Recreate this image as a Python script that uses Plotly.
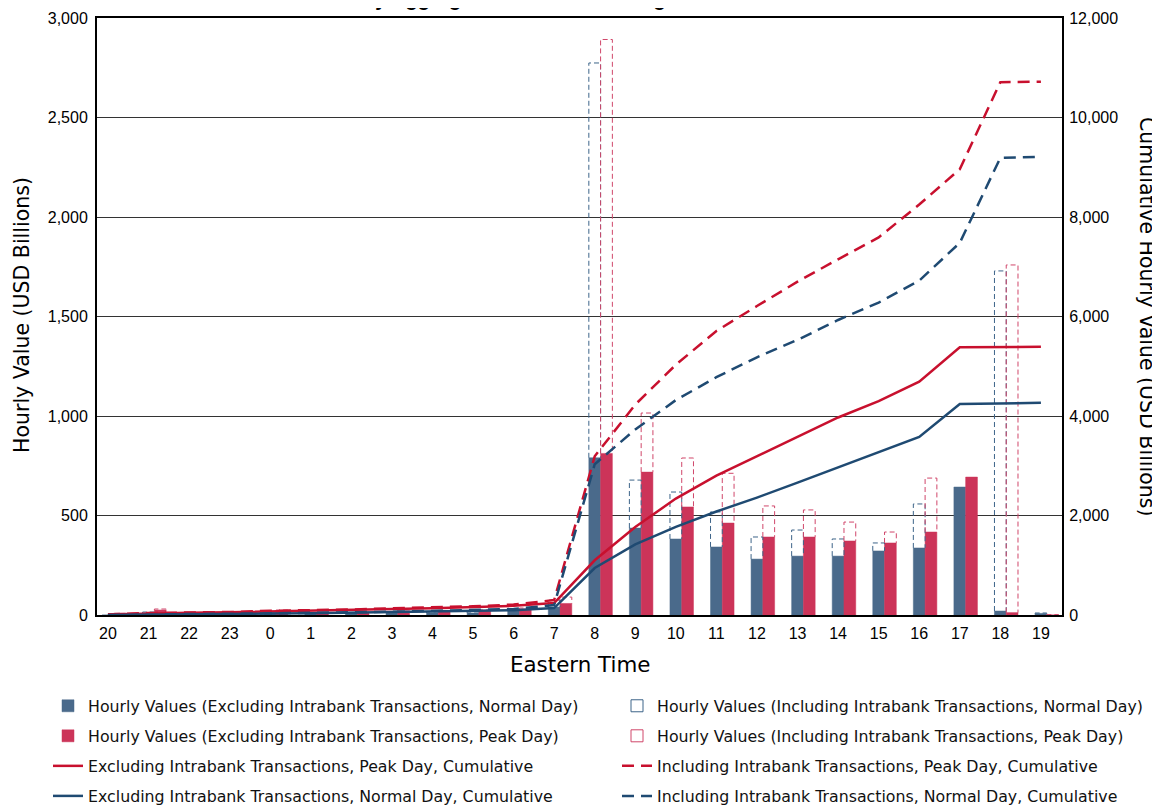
import plotly.graph_objects as go

hours = ["20", "21", "22", "23", "0", "1", "2", "3", "4", "5", "6", "7",
         "8", "9", "10", "11", "12", "13", "14", "15", "16", "17", "18", "19"]

normal_excl = [0, 10, 5, 5, 10, 5, 10, 10, 10, 10, 20, 40,
               790, 437, 382, 342, 281, 296, 296, 322, 337, 643, 20, 8]
peak_excl = [10, 25, 10, 10, 20, 10, 15, 20, 15, 20, 30, 58,
             812, 718, 543, 462, 392, 392, 372, 362, 417, 693, 12, 0]
normal_incl = [0, 15, 5, 5, 15, 5, 10, 10, 15, 15, 25, 75,
               2774, 678, 618, 518, 392, 427, 382, 362, 558, 643, 1729, 10]
peak_incl = [10, 30, 10, 10, 25, 10, 15, 25, 15, 25, 35, 90,
             2892, 1015, 789, 712, 548, 528, 467, 417, 688, 693, 1759, 2]

cum_normal_excl = [0, 10, 15, 20, 30, 35, 45, 55, 65, 75, 95, 140,
                   945, 1420, 1770, 2080, 2360, 2660, 2970, 3270, 3580, 4240, 4255, 4265]
cum_peak_excl = [10, 35, 45, 55, 75, 85, 100, 120, 135, 155, 185, 240,
                 1100, 1770, 2340, 2800, 3190, 3590, 3970, 4300, 4690, 5380, 5390, 5390]
cum_normal_incl = [0, 15, 20, 25, 40, 45, 55, 65, 80, 95, 120, 200,
                   3030, 3730, 4320, 4780, 5180, 5530, 5930, 6280, 6720, 7480, 9190, 9210]
cum_peak_incl = [10, 40, 50, 60, 85, 95, 110, 135, 150, 175, 210, 300,
                 3190, 4230, 5030, 5710, 6210, 6700, 7150, 7590, 8250, 8960, 10710, 10720]

idx = list(range(len(hours)))

# styles
BLUE_BAR = "#4a6a8b"
RED_BAR = "#cc3459"
BLUE_LINE = "#1f4a72"
RED_LINE = "#c8102e"
BLUE_OUT = "#3d6489"
RED_OUT = "#d0466a"
BAR_W = 0.29
OFF_BLUE = -BAR_W / 2
OFF_RED = BAR_W / 2
FONT = "DejaVu Sans, Arial, sans-serif"
TFONT = "Arial, Liberation Sans, sans-serif"

# page offset of the plotly div (default body margin)
OFS = 8
W, H = 1160 - OFS, 807 - OFS
# plot area in page pixels
PL, PR, PT, PB = 97, 1062, 18, 615
PW, PH = PR - PL, PB - PT


def px_x(px):
    return (px - PL) / PW


def px_y(py):
    return (PB - py) / PH


def outline_path(vals_incl, vals_excl, off):
    xs, ys = [], []
    for i, (vi, ve) in enumerate(zip(vals_incl, vals_excl)):
        if vi <= ve:
            continue
        x0 = i + off
        x1 = x0 + BAR_W
        xs += [x0, x0, x1, x1, None]
        ys += [ve, vi, vi, ve, None]
    return xs, ys


fig = go.Figure()

bx, by = outline_path(normal_incl, normal_excl, OFF_BLUE)
rx, ry = outline_path(peak_incl, peak_excl, OFF_RED)
fig.add_trace(go.Scatter(x=bx, y=by, mode="lines", showlegend=False, hoverinfo="skip",
                         line=dict(color=BLUE_OUT, width=1, dash="5px,3px")))
fig.add_trace(go.Scatter(x=rx, y=ry, mode="lines", showlegend=False, hoverinfo="skip",
                         line=dict(color=RED_OUT, width=1, dash="5px,3px")))

fig.add_trace(go.Bar(x=idx, y=normal_excl, width=BAR_W, offset=OFF_BLUE,
                     marker=dict(color=BLUE_BAR, line=dict(color=BLUE_BAR, width=0.5)),
                     name="Hourly Values (Excluding Intrabank Transactions, Normal Day)",
                     legend="legend", legendgroup="a1"))
fig.add_trace(go.Bar(x=idx, y=peak_excl, width=BAR_W, offset=OFF_RED,
                     marker=dict(color=RED_BAR, line=dict(color=RED_BAR, width=0.5)),
                     name="Hourly Values (Excluding Intrabank Transactions, Peak Day)",
                     legend="legend", legendgroup="a2"))

fig.add_trace(go.Bar(x=idx, y=[None] * len(idx), width=BAR_W, offset=OFF_BLUE,
                     marker=dict(color="white", line=dict(color=BLUE_OUT, width=1)),
                     name="Hourly Values (Including Intrabank Transactions, Normal Day)",
                     legend="legend2", legendgroup="b1"))
fig.add_trace(go.Bar(x=idx, y=[None] * len(idx), width=BAR_W, offset=OFF_RED,
                     marker=dict(color="white", line=dict(color=RED_OUT, width=1)),
                     name="Hourly Values (Including Intrabank Transactions, Peak Day)",
                     legend="legend2", legendgroup="b2"))

fig.add_trace(go.Scatter(x=idx, y=cum_peak_excl, yaxis="y2", mode="lines",
                         line=dict(color=RED_LINE, width=2.5),
                         name="Excluding Intrabank Transactions, Peak Day, Cumulative",
                         legend="legend", legendgroup="a3"))
fig.add_trace(go.Scatter(x=idx, y=cum_normal_excl, yaxis="y2", mode="lines",
                         line=dict(color=BLUE_LINE, width=2.5),
                         name="Excluding Intrabank Transactions, Normal Day, Cumulative",
                         legend="legend", legendgroup="a4"))
fig.add_trace(go.Scatter(x=idx, y=cum_peak_incl, yaxis="y2", mode="lines",
                         line=dict(color=RED_LINE, width=2.5, dash="12px,7px"),
                         name="Including Intrabank Transactions, Peak Day, Cumulative",
                         legend="legend2", legendgroup="b3"))
fig.add_trace(go.Scatter(x=idx, y=cum_normal_incl, yaxis="y2", mode="lines",
                         line=dict(color=BLUE_LINE, width=2.5, dash="12px,7px"),
                         name="Including Intrabank Transactions, Normal Day, Cumulative",
                         legend="legend2", legendgroup="b4"))

legend_common = dict(font=dict(family=FONT, size=15.8, color="#111"), orientation="v",
                     tracegroupgap=6.5, xref="paper", yref="paper",
                     xanchor="left", yanchor="top", bgcolor="rgba(0,0,0,0)",
                     traceorder="grouped")

tick_font = dict(family=TFONT, size=16, color="black")

fig.update_layout(
    width=W, height=H,
    margin=dict(l=PL - OFS, r=1160 - PR, t=PT - OFS, b=807 - PB, autoexpand=False),
    paper_bgcolor="white", plot_bgcolor="white",
    font=dict(family=FONT, size=16, color="black"),
    barmode="overlay",
    title=dict(text="<b>Hourly Aggregated Values Including Intrabank Transactions</b>",
               font=dict(family=TFONT, size=20, color="black"),
               xref="container", x=(323 - OFS) / W, xanchor="left",
               yref="container", y=1.0, yanchor="bottom", pad=dict(b=2)),
    xaxis=dict(range=[-0.27, 23.52], tickmode="array", tickvals=idx, ticktext=hours,
               showline=True, linecolor="black", linewidth=2, mirror=True,
               ticks="", showgrid=False, zeroline=False, automargin=False,
               ticklabelstandoff=3, tickfont=tick_font),
    yaxis=dict(range=[0, 3000], dtick=500, tickformat=",", showgrid=True,
               gridcolor="#333", gridwidth=1, showline=True, linecolor="black",
               linewidth=2, zeroline=False, ticks="", automargin=False,
               ticklabelstandoff=4, tickfont=tick_font),
    yaxis2=dict(range=[0, 12000], dtick=2000, tickformat=",", overlaying="y",
                side="right", showgrid=False, showline=True, linecolor="black",
                linewidth=2, zeroline=False, ticks="", automargin=False,
                ticklabelstandoff=2, tickfont=tick_font),
    legend=dict(x=px_x(48), y=px_y(689), **legend_common),
    legend2=dict(x=px_x(617), y=px_y(689), **legend_common),
    annotations=[
        dict(text="Hourly Value (USD Billions)", textangle=-90, showarrow=False,
             xref="paper", yref="paper", x=px_x(22), y=px_y(315),
             xanchor="center", yanchor="middle",
             font=dict(family=FONT, size=20.5, color="black")),
        dict(text="Cumulative Hourly Value (USD Billions)", textangle=90, showarrow=False,
             xref="paper", yref="paper", x=px_x(1147), y=px_y(316),
             xanchor="center", yanchor="middle",
             font=dict(family=FONT, size=20.5, color="black")),
        dict(text="Eastern Time", showarrow=False,
             xref="paper", yref="paper", x=0.5, y=px_y(664),
             xanchor="center", yanchor="middle",
             font=dict(family=FONT, size=21.4, color="black")),
    ],
)

fig.write_html("out.html")
